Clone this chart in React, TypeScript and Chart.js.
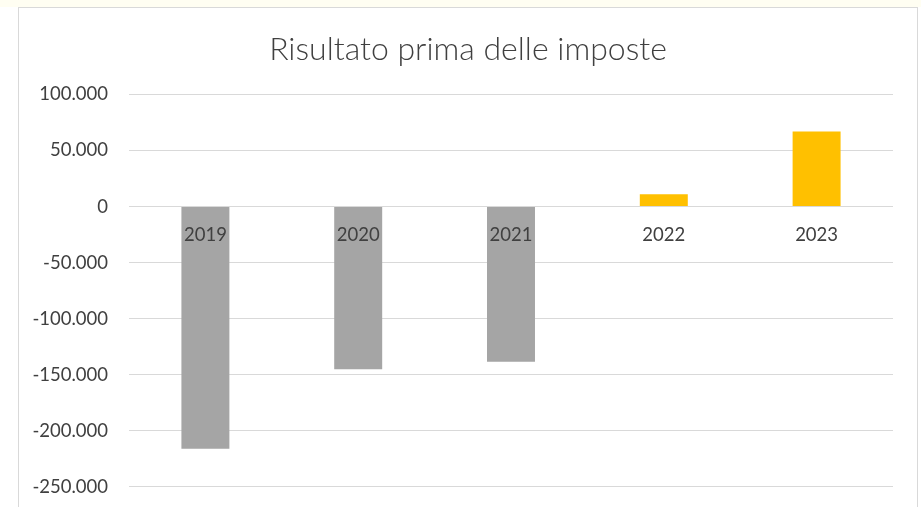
import React, { useEffect, useRef } from "react";
import { Chart, registerables } from "chart.js";

Chart.register(...registerables);

const TITLE = "Risultato prima delle imposte";
const YEARS = ["2019", "2020", "2021", "2022", "2023"];
const VALUES = [-216000, -145000, -138500, 11000, 67000];
const Y_MIN = -250000;
const Y_MAX = 100000;
const Y_STEP = 50000;

const NEG_COLOR = "#A5A5A5";
const POS_COLOR = "#FFC000";
const TEXT_COLOR = "#404040";
const GRID_COLOR = "#D9D9D9";
const FONT = "Lato, 'Open Sans', sans-serif";

function fmt(v: number): string {
  const s = Math.abs(Math.round(v)).toString().replace(/\B(?=(\d{3})+(?!\d))/g, ".");
  return (v < 0 ? "-" : "") + s;
}

export default function App() {
  const ref = useRef<HTMLCanvasElement | null>(null);

  useEffect(() => {
    if (!ref.current) return;
    const chart = new Chart(ref.current, {
      type: "bar",
      data: {
        labels: YEARS,
        datasets: [
          {
            data: VALUES,
            backgroundColor: VALUES.map((v) => (v < 0 ? NEG_COLOR : POS_COLOR)),
            barPercentage: 0.314,
            categoryPercentage: 1,
          },
        ],
      },
      options: {
        responsive: false,
        maintainAspectRatio: false,
        animation: false,
        layout: { padding: { left: 0, right: 0, top: 0, bottom: 0 } },
        plugins: {
          legend: { display: false },
          tooltip: { enabled: false },
          title: {
            display: true,
            text: TITLE,
            color: TEXT_COLOR,
            font: { family: FONT, size: 32, weight: "300" as any, lineHeight: 1.2 },
            padding: { top: 30, bottom: 26 },
          },
        },
        scales: {
          x: {
            type: "category",
            position: { y: 0 } as any,
            grid: { display: false, drawTicks: false },
            border: { display: false },
            ticks: {
              z: 1,
              color: TEXT_COLOR,
              font: { family: FONT, size: 18.5 },
              padding: 17,
              maxRotation: 0,
              autoSkip: false,
            },
          },
          y: {
            min: Y_MIN,
            max: Y_MAX,
            grid: { color: GRID_COLOR, lineWidth: 1, drawTicks: false },
            border: { display: false },
            ticks: {
              stepSize: Y_STEP,
              color: TEXT_COLOR,
              font: { family: FONT, size: 18.5 },
              padding: 21,
              callback: (v: any) => fmt(Number(v)),
            },
            afterFit: (scale: any) => {
              scale.width = 129;
            },
          },
          yRight: {
            type: "linear",
            position: "right",
            min: Y_MIN,
            max: Y_MAX,
            grid: { display: false, drawTicks: false },
            border: { display: false },
            ticks: { display: false },
            afterFit: (scale: any) => {
              scale.width = 43;
            },
          },
        },
      },
    });
    return () => chart.destroy();
  }, []);

  return (
    <div style={{ position: "absolute", left: 0, top: 0, width: 921, height: 507, background: "#FFFFFF", overflow: "hidden" }}>
      <div style={{ position: "absolute", left: 0, top: 0, width: 921, height: 7, background: "#FFFEF2" }} />
      <div
        style={{
          position: "absolute",
          left: 18,
          top: 7,
          width: 900,
          height: 510,
          borderLeft: "1px solid #D9D9D9",
          borderTop: "1px solid #D9D9D9",
          borderRight: "1px solid #D9D9D9",
          boxSizing: "border-box",
        }}
      />
      <canvas ref={ref} width={936} height={519} style={{ position: "absolute", left: 0, top: 0 }} />
    </div>
  );
}
